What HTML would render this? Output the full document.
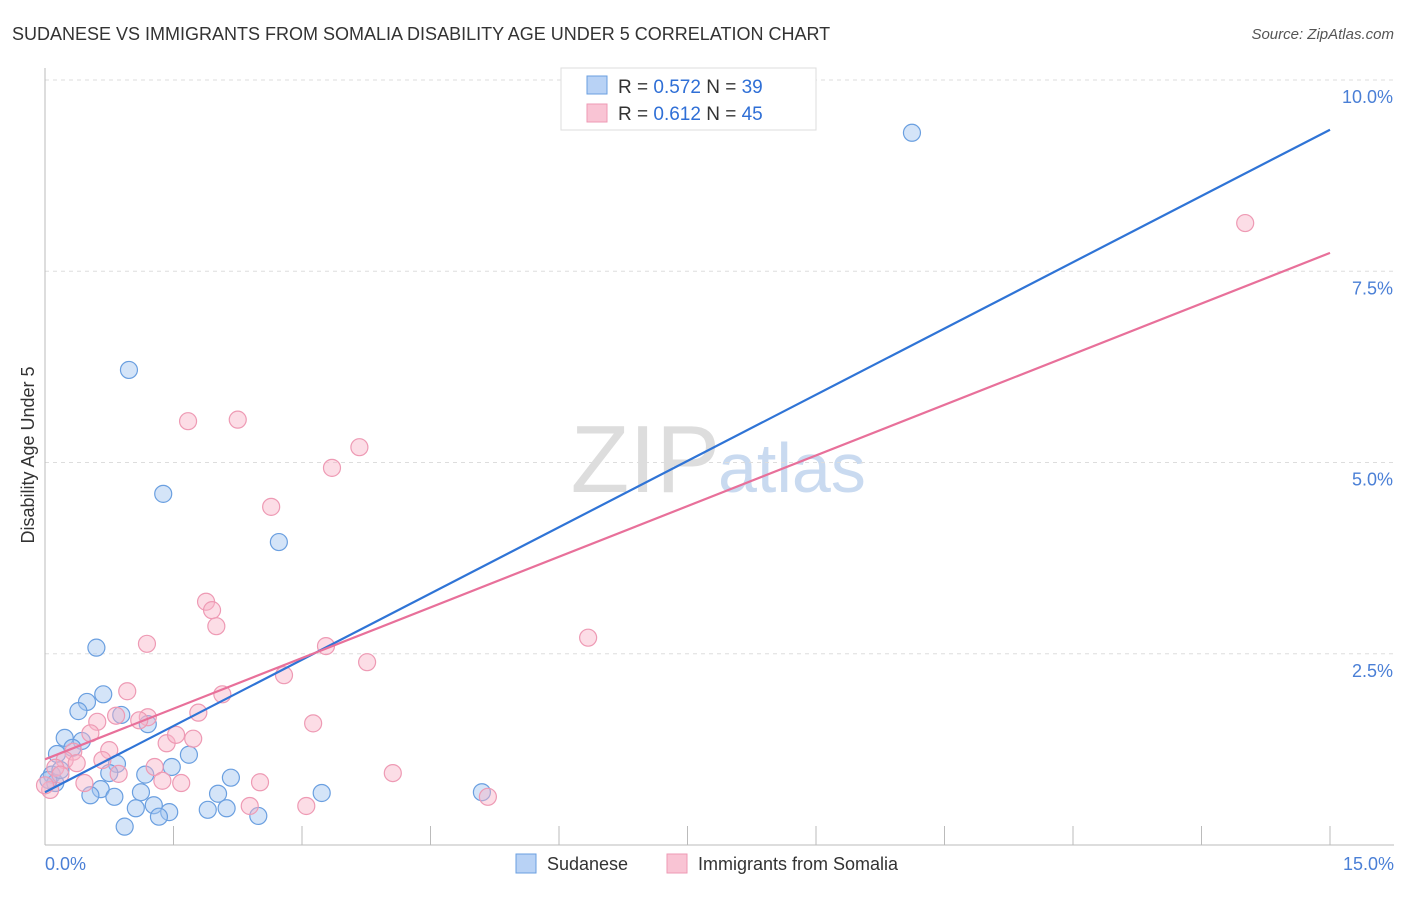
<!DOCTYPE html>
<html><head><meta charset="utf-8"><style>
body{margin:0;background:#fff;font-family:"Liberation Sans",sans-serif;}
svg text{font-family:"Liberation Sans",sans-serif;}
</style></head><body>
<svg id="c" width="1406" height="892">
<text x="12" y="40" font-size="18" fill="#333">SUDANESE VS IMMIGRANTS FROM SOMALIA DISABILITY AGE UNDER 5 CORRELATION CHART</text>
<text x="1394" y="39" font-size="15" fill="#555" font-style="italic" text-anchor="end">Source: ZipAtlas.com</text>
<text x="720" y="492" font-size="96" fill="#ddd" font-family="Liberation Serif" text-anchor="end">ZIP</text>
<text x="718" y="492" font-size="70" fill="#c9daf0">atlas</text>
<g id="grid"></g><g id="axes"></g><g id="pts"></g><g id="lines"></g>
<text transform="translate(34,455) rotate(-90)" font-size="18" fill="#333" text-anchor="middle">Disability Age Under 5</text>
<g>
<rect x="561" y="68" width="255" height="62" fill="#fff" stroke="#ddd"/>
<rect x="587" y="76" width="20" height="18" fill="#b8d2f5" stroke="#6a9fe0"/>
<rect x="587" y="104" width="20" height="18" fill="#f9c4d4" stroke="#ee9ab4"/>
<text x="618" y="93" font-size="19" fill="#333">R = <tspan fill="#2f6fd6">0.572</tspan>   N = <tspan fill="#2f6fd6">39</tspan></text>
<text x="618" y="120" font-size="19" fill="#333">R = <tspan fill="#2f6fd6"> 0.612</tspan>   N = <tspan fill="#2f6fd6">45</tspan></text>
</g>
<g>
<rect x="516" y="854" width="20" height="19" fill="#b8d2f5" stroke="#6a9fe0"/>
<text x="547" y="870" font-size="18" fill="#333">Sudanese</text>
<rect x="667" y="854" width="20" height="19" fill="#f9c4d4" stroke="#ee9ab4"/>
<text x="698" y="870" font-size="18" fill="#333">Immigrants from Somalia</text>
</g>
</svg>
<script>
const xTicks=[0,1.5,3,4.5,6,7.5,9,10.5,12,13.5,15];
const yTicks=[2.5,5,7.5,10];
const yTickLabels=["2.5%","5.0%","7.5%","10.0%"];
const blueX=[0.98,1.38,2.73,0.60,10.12,0.68,0.49,0.39,0.89,1.20,0.23,0.43,0.32,0.14,1.68,0.84,1.48,0.75,1.17,2.17,0.08,0.12,1.12,0.65,0.53,0.81,2.02,3.23,5.10,1.27,1.06,1.45,1.33,1.90,2.12,2.49,0.93,0.04,0.18];
const blueY=[6.21,4.59,3.96,2.58,9.31,1.97,1.87,1.75,1.70,1.58,1.40,1.36,1.27,1.19,1.18,1.06,1.02,0.94,0.92,0.88,0.92,0.81,0.69,0.73,0.65,0.63,0.67,0.68,0.69,0.52,0.48,0.43,0.37,0.46,0.48,0.38,0.24,0.85,0.98];
const pinkX=[14.01,1.67,2.25,3.67,3.35,2.64,1.88,1.95,2.00,1.19,3.28,6.34,3.76,2.79,0.96,2.07,0.83,1.79,0.61,1.20,1.10,3.13,0.53,1.42,1.73,1.53,0.75,0.33,0.23,0.67,0.37,0.12,1.28,4.06,0.86,2.51,0.46,1.59,1.37,2.39,3.05,5.17,0.18,0.06,0.00];
const pinkY=[8.13,5.54,5.56,5.20,4.93,4.42,3.18,3.07,2.86,2.63,2.60,2.71,2.39,2.22,2.01,1.97,1.69,1.73,1.61,1.67,1.63,1.59,1.46,1.33,1.39,1.44,1.24,1.22,1.11,1.11,1.07,1.01,1.02,0.94,0.93,0.82,0.81,0.81,0.84,0.51,0.51,0.63,0.92,0.72,0.78];
const blueTrend=[0.69,9.35];
const pinkTrend=[1.12,7.74];
const NS="http://www.w3.org/2000/svg";
const X=v=>45+v/15*1285, Y=v=>845-v/10*765;
function mk(t,a,p){const e=document.createElementNS(NS,t);for(const k in a)e.setAttribute(k,a[k]);p.appendChild(e);return e;}
const grid=document.getElementById('grid'),axes=document.getElementById('axes'),pts=document.getElementById('pts'),lines=document.getElementById('lines');
yTicks.forEach((v,i)=>{const l=mk('line',{x1:45,x2:1394,y1:Y(v),y2:Y(v),stroke:'#ddd','stroke-dasharray':'4,4'},grid);


const t=mk('text',{x:1393,y:Y(v)+23,'font-size':18,fill:'#4a7fd6','text-anchor':'end'},grid);t.textContent=yTickLabels[i];

});
const ax=mk('line',{x1:45,x2:1394,y1:845,y2:845,stroke:'#bbb'},axes);


const ay=mk('line',{x1:45,x2:45,y1:68,y2:845,stroke:'#bbb'},axes);


xTicks.forEach(v=>{if(v===0)return;const l=mk('line',{x1:X(v),x2:X(v),y1:826,y2:845,stroke:'#bbb'},axes);

});
const t0=mk('text',{x:45,y:870,'font-size':18,fill:'#4a7fd6'},axes);t0.textContent='0.0%';


const t1=mk('text',{x:1394,y:870,'font-size':18,fill:'#4a7fd6','text-anchor':'end'},axes);t1.textContent='15.0%';


function series(xs,ys,fill,stroke,name){xs.forEach((x,i)=>{const c=mk('circle',{cx:X(x),cy:Y(ys[i]),r:8.5,fill:fill,stroke:stroke,'stroke-width':1.2},pts);

});}
series(blueX,blueY,'rgba(160,196,240,0.45)','#6a9fe0','sudanese-point');
series(pinkX,pinkY,'rgba(248,180,200,0.45)','#ee9ab4','somalia-point');
const bl=mk('line',{x1:X(0),y1:Y(blueTrend[0]),x2:X(15),y2:Y(blueTrend[1]),stroke:'#2f74d6','stroke-width':2.2},lines);


const pl=mk('line',{x1:X(0),y1:Y(pinkTrend[0]),x2:X(15),y2:Y(pinkTrend[1]),stroke:'#e8709a','stroke-width':2.2},lines);


</script>
</body></html>
